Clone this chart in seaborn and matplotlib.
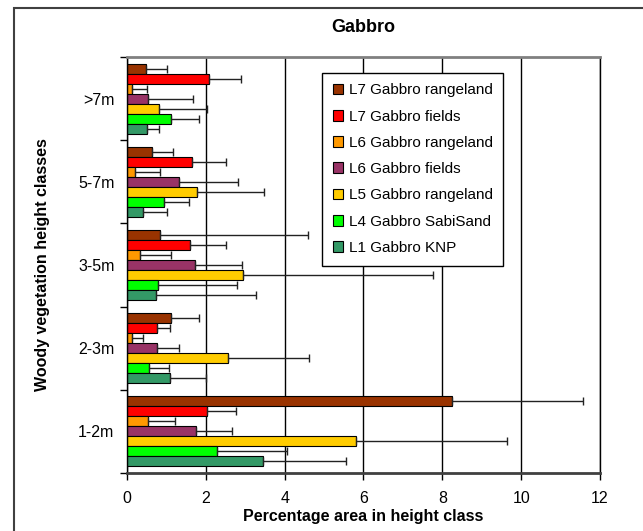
import numpy as np
import pandas as pd
import matplotlib
matplotlib.use('Agg')
import matplotlib.pyplot as plt
import seaborn as sns
from matplotlib.patches import Rectangle

classes = ['>7m', '5-7m', '3-5m', '2-3m', '1-2m']
series = ['L7 Gabbro rangeland', 'L7 Gabbro fields', 'L6 Gabbro rangeland',
          'L6 Gabbro fields', 'L5 Gabbro rangeland', 'L4 Gabbro SabiSand',
          'L1 Gabbro KNP']

# mean percentage area per class (order follows classes)
l7_range = [0.48, 0.64, 0.85, 1.12, 8.24]
l7_fields = [2.09, 1.66, 1.61, 0.77, 2.02]
l6_range = [0.12, 0.20, 0.33, 0.13, 0.54]
l6_fields = [0.54, 1.31, 1.73, 0.77, 1.75]
l5_range = [0.81, 1.77, 2.94, 2.55, 5.81]
l4_sabi = [1.12, 0.94, 0.78, 0.56, 2.29]
l1_knp = [0.50, 0.40, 0.74, 1.10, 3.46]

# error (one-sided, drawn to the right)
l7_range_sd = [0.54, 0.52, 3.73, 0.71, 3.33]
l7_fields_sd = [0.79, 0.86, 0.91, 0.33, 0.75]
l6_range_sd = [0.40, 0.63, 0.79, 0.28, 0.68]
l6_fields_sd = [1.14, 1.51, 1.20, 0.56, 0.91]
l5_range_sd = [1.23, 1.71, 4.82, 2.06, 3.83]
l4_sabi_sd = [0.71, 0.63, 2.02, 0.50, 1.76]
l1_knp_sd = [0.32, 0.62, 2.54, 0.90, 2.10]

colors = ['#993300', '#FF0000', '#FF9900', '#993366', '#FFCC00', '#00FF00', '#339966']

means = [l7_range, l7_fields, l6_range, l6_fields, l5_range, l4_sabi, l1_knp]
sds = [l7_range_sd, l7_fields_sd, l6_range_sd, l6_fields_sd, l5_range_sd, l4_sabi_sd, l1_knp_sd]

rows = []
for s, m in zip(series, means):
    for c, v in zip(classes, m):
        rows.append({'cls': c, 'series': s, 'val': v})
df = pd.DataFrame(rows)

sns.set_style('white')
plt.rcParams['font.family'] = ['Liberation Sans', 'DejaVu Sans']
plt.rcParams['text.color'] = 'black'
plt.rcParams['axes.labelcolor'] = 'black'
plt.rcParams['xtick.color'] = 'black'
plt.rcParams['ytick.color'] = 'black'

fig = plt.figure(figsize=(6.43, 5.31), dpi=100)
ax = fig.add_axes([0.1975, 0.1092, 0.7356, 0.7835])

sns.barplot(data=df, y='cls', x='val', hue='series', order=classes, hue_order=series,
            palette=colors, orient='h', width=0.84, edgecolor='black', linewidth=0.8,
            errorbar=None, ax=ax, legend=False, saturation=1)

for cont, sd in zip(ax.containers, sds):
    ys = [p.get_y() + p.get_height() / 2 for p in cont.patches]
    xs = [p.get_width() for p in cont.patches]
    ax.errorbar(xs, ys, xerr=[np.zeros(len(sd)), sd], fmt='none', ecolor='#222222',
                elinewidth=1, capsize=3, capthick=1)

ax.set_xlim(0, 12)
ax.set_ylim(4.5, -0.5)
ax.set_xticks(range(0, 13, 2))
ax.xaxis.grid(True, color='black', lw=1)
ax.set_axisbelow(True)

ax.set_yticks(np.arange(-0.5, 5, 1), minor=True)
ax.tick_params(axis='y', which='major', length=0, labelsize=11.5, pad=9)
ax.tick_params(axis='y', which='minor', length=5, width=1, color='black', direction='out', left=True)
ax.tick_params(axis='x', which='major', length=5, width=1, color='black', direction='out',
               bottom=True, labelsize=11.5, pad=8)

ax.spines['left'].set_color('black')
ax.spines['left'].set_linewidth(1)
ax.spines['top'].set_color('#808080')
ax.spines['top'].set_linewidth(2)
ax.spines['bottom'].set_color('#404040')
ax.spines['bottom'].set_linewidth(2)
ax.spines['right'].set_color('black')
ax.spines['right'].set_linewidth(1)

ax.set_xlabel('Percentage area in height class', fontsize=11.5, fontweight='bold', labelpad=2)
ax.set_ylabel('Woody vegetation height classes', fontsize=11.5, fontweight='bold', labelpad=20)
ax.set_title('Gabbro', fontsize=13, fontweight='bold', pad=18)

handles = [Rectangle((0, 0), 1, 1, facecolor=c, edgecolor='black', lw=0.8) for c in colors]
leg = ax.legend(handles, series, loc='upper left', bbox_to_anchor=(0.412, 0.962),
                borderaxespad=0, fontsize=11, handlelength=0.7, handleheight=0.7,
                handletextpad=0.35, labelspacing=0.8, borderpad=0.7, fancybox=False,
                framealpha=1, edgecolor='black')
leg.get_frame().set_linewidth(1)

fig.patches.append(Rectangle((0.021, -0.01), 1.0, 0.995, transform=fig.transFigure,
                             fill=False, edgecolor='#404040', lw=1.5))

plt.savefig('out.png', dpi=100)
